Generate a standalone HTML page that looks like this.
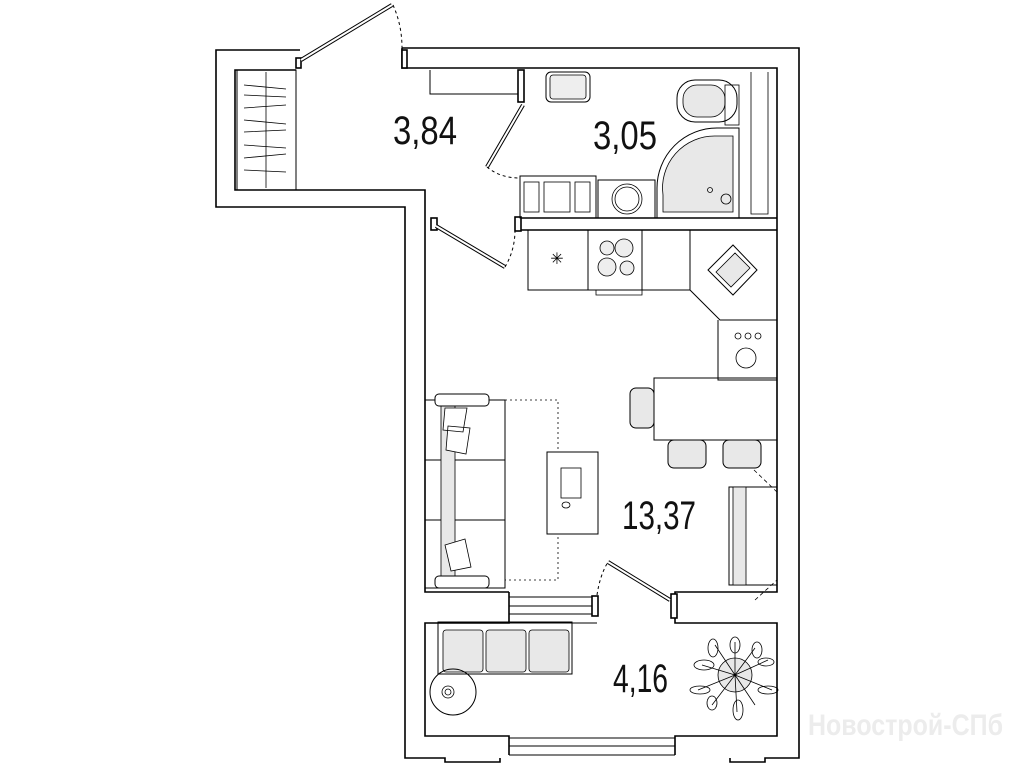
<!DOCTYPE html>
<html><head><meta charset="utf-8"><style>
html,body{margin:0;padding:0;background:#fff;width:1019px;height:768px;overflow:hidden}
text{font-family:"Liberation Sans",sans-serif}
</style></head><body>
<svg width="1019" height="768" viewBox="0 0 1019 768" xmlns="http://www.w3.org/2000/svg">
<g fill="none" stroke="#000" stroke-width="1.6">
<path d="M300,50 H216 V207 H405 V758 H445 V762 H500 V758"/>
<path d="M402,48 H799 V758 H765 V762 H730 V758"/>
<path d="M296,70 H235 V190 H425 V592 H509"/>
<path d="M402,48 V68 H777 V592 H675 V623 H777 V736 H675 V755"/>
<path d="M509,592 V623 H425 V736 H509 V755"/>
<path d="M509,738 H675 M509,746 H675 M509,755 H675" stroke-width="1"/>
<path d="M509,597 H597 M509,606 H597 M509,614 H597 M509,623 H597" stroke-width="1"/>
<rect x="592" y="596" width="6" height="20" fill="#fff"/>
<rect x="671" y="594" width="6" height="24" fill="#fff"/>
<rect x="237" y="70" width="59" height="120" stroke-width="1"/>
<line x1="266" y1="72" x2="266" y2="188" stroke-width="0.8"/>
<path d="M244,85 l42,4 M244,95 l42,2 M244,108 l42,-3 M244,120 l42,4 M244,132 l42,-2 M244,145 l42,3 M244,158 l42,-4 M244,170 l42,2" stroke-width="0.8"/>
<rect x="296" y="58" width="5" height="10" fill="#fff"/>
<line x1="301" y1="60" x2="392" y2="5" stroke-width="4"/>
<line x1="301" y1="60" x2="392" y2="5" stroke="#fff" stroke-width="2"/>
<path d="M393,5 Q402,25 402,48" stroke-dasharray="3,3" stroke-width="1"/>
<rect x="402" y="50" width="5" height="18" fill="#fff"/>
<path d="M430,70 V94 H520" stroke-width="1"/>
<rect x="518" y="70" width="6" height="32" fill="#fff"/>
<path d="M523,105 L487,167" stroke-width="4"/>
<path d="M523,105 L487,167" stroke="#fff" stroke-width="2"/>
<path d="M487,167 Q500,178 520,178" stroke-dasharray="3,3" stroke-width="1"/>
<path d="M518,218 H777 M518,230 H777" />
<rect x="515" y="217" width="6" height="14" fill="#fff"/>
<rect x="546" y="72" width="44" height="30" rx="5" stroke-width="1"/>
<rect x="550" y="75" width="36" height="24" rx="3" fill="#eee" stroke-width="0.8"/>
<rect x="520" y="176" width="76" height="42" stroke-width="1"/>
<rect x="524" y="182" width="15" height="30" stroke-width="0.8"/>
<rect x="544" y="182" width="26" height="30" stroke-width="0.8"/>
<rect x="575" y="182" width="15" height="30" stroke-width="0.8"/>
<rect x="598" y="180" width="57" height="38" stroke-width="1"/>
<circle cx="627" cy="199" r="15" stroke-width="0.8"/><circle cx="627" cy="199" r="12" stroke-width="0.8"/>
<path d="M657,218 V188 A60,60 0 0 1 717,128 H739 V218 Z" stroke-width="1"/>
<path d="M663,212 V195 A52,52 0 0 1 715,136 H733 V212 Z" fill="#e8e8e8" stroke-width="0.8"/>
<circle cx="726" cy="199" r="5" stroke-width="0.8"/><circle cx="710" cy="190" r="2.5" stroke-width="0.8"/>
<rect x="677" y="80" width="60" height="42" rx="18" stroke-width="1"/>
<rect x="683" y="85" width="42" height="32" rx="14" fill="#e8e8e8" stroke-width="0.8"/>
<rect x="725" y="85" width="14" height="40" stroke-width="0.8"/>
<path d="M751,72 V214 H768 V72" stroke-width="0.8"/>
<path d="M528,230 V290 H690 V230 M588,230 V290 M642,230 V290" stroke-width="1"/>
<text x="557" y="264" font-size="16" text-anchor="middle" stroke="none" fill="#000">✳</text>
<circle cx="607" cy="248" r="7" fill="#eee" stroke-width="0.8"/><circle cx="624" cy="248" r="9" fill="#eee" stroke-width="0.8"/>
<circle cx="607" cy="267" r="9" fill="#eee" stroke-width="0.8"/><circle cx="627" cy="268" r="7" fill="#eee" stroke-width="0.8"/>
<path d="M596,290 V295 H642 V290" stroke-width="0.8"/>
<path d="M690,230 V290 L720,320 H777" stroke-width="1"/>
<path d="M708,270 L733,245 L757,270 L733,295 Z" stroke-width="1"/>
<path d="M716,272 L735,253 L750,268 L731,287 Z" fill="#e8e8e8" stroke-width="0.8"/>
<path d="M718,320 V380 H777" stroke-width="1"/>
<circle cx="746" cy="358" r="10" stroke-width="0.8"/>
<circle cx="738" cy="336" r="3" stroke-width="0.8"/><circle cx="748" cy="336" r="3" stroke-width="0.8"/><circle cx="758" cy="336" r="3" stroke-width="0.8"/>
<rect x="654" y="378" width="123" height="62" stroke-width="1"/>
<rect x="630" y="388" width="24" height="40" rx="6" fill="#e8e8e8" stroke-width="1"/>
<rect x="668" y="440" width="38" height="28" rx="6" fill="#e8e8e8" stroke-width="1"/>
<rect x="723" y="440" width="38" height="28" rx="6" fill="#e8e8e8" stroke-width="1"/>
<rect x="729" y="487" width="48" height="98" stroke-width="1"/>
<rect x="733" y="487" width="13" height="98" fill="#e8e8e8" stroke-width="0.8"/>
<path d="M754,470 L777,492 M755,600 L777,580" stroke-dasharray="4,3" stroke-width="0.8"/>
<rect x="425" y="400" width="80" height="188" stroke-width="1"/>
<path d="M425,460 H505 M425,520 H505" stroke-width="1"/>
<rect x="441" y="400" width="14" height="188" fill="#e8e8e8" stroke-width="0.8"/>
<rect x="435" y="394" width="54" height="12" rx="4" fill="#fff" stroke-width="1"/>
<rect x="435" y="576" width="54" height="12" rx="4" fill="#fff" stroke-width="1"/>
<path d="M445,408 l22,0 l-4,24 l-20,-2 Z M448,426 l22,2 l-4,26 l-20,-4 Z M445,545 l20,-6 l6,28 l-20,4 Z" fill="#fff" stroke-width="0.8"/>
<rect x="505" y="400" width="53" height="180" stroke-dasharray="2,3" stroke-width="0.8"/>
<rect x="547" y="452" width="51" height="82" fill="#fff" stroke-width="1"/>
<rect x="561" y="468" width="20" height="30" stroke-width="0.8"/>
<ellipse cx="566" cy="505" rx="4" ry="3" stroke-width="0.8"/>
<path d="M608,562 L670,600" stroke-width="4"/><path d="M608,562 L670,600" stroke="#fff" stroke-width="2"/>
<path d="M597,595 Q600,575 608,562" stroke-dasharray="3,3" stroke-width="1"/>
<rect x="431" y="218" width="6" height="12" fill="#fff"/>
<path d="M436,226 L505,267" stroke-width="4"/><path d="M436,226 L505,267" stroke="#fff" stroke-width="2"/>
<path d="M505,267 Q515,250 515,230" stroke-dasharray="3,3" stroke-width="1"/>
<rect x="438" y="622" width="134" height="52" stroke-width="1"/>
<rect x="443" y="630" width="40" height="42" rx="3" fill="#e8e8e8" stroke-width="0.8"/>
<rect x="486" y="630" width="40" height="42" rx="3" fill="#e8e8e8" stroke-width="0.8"/>
<rect x="529" y="630" width="40" height="42" rx="3" fill="#e8e8e8" stroke-width="0.8"/>
<circle cx="453" cy="692" r="23" stroke-width="1"/>
<circle cx="448" cy="692" r="6" stroke-width="0.8"/><circle cx="448" cy="692" r="3" stroke-width="0.8"/>
<circle cx="735" cy="675" r="17" fill="#e8e8e8" stroke-width="0.8"/>
<g stroke-width="0.8">
<path d="M735,675 L715,645 M735,675 L735,642 M735,675 L755,648 M735,675 L768,660 M735,675 L772,690 M735,675 L755,705 M735,675 L737,712 M735,675 L712,705 M735,675 L698,690 M735,675 L702,665"/>
<ellipse cx="713" cy="648" rx="5" ry="9"/><ellipse cx="735" cy="645" rx="5" ry="8"/><ellipse cx="757" cy="650" rx="5" ry="8"/>
<ellipse cx="766" cy="662" rx="8" ry="4"/><ellipse cx="768" cy="690" rx="10" ry="4"/><ellipse cx="738" cy="710" rx="5" ry="10"/>
<ellipse cx="712" cy="703" rx="5" ry="7"/><ellipse cx="700" cy="690" rx="10" ry="4"/><ellipse cx="704" cy="665" rx="10" ry="5"/>
</g>
</g>
<g font-size="40" fill="#111">
<text x="393" y="144" textLength="64" lengthAdjust="spacingAndGlyphs">3,84</text>
<text x="593" y="149" textLength="64" lengthAdjust="spacingAndGlyphs">3,05</text>
<text x="622" y="529" textLength="74" lengthAdjust="spacingAndGlyphs">13,37</text>
<text x="613" y="692" textLength="55" lengthAdjust="spacingAndGlyphs">4,16</text>
</g>
<text x="808" y="735" font-size="30" fill="#ececec" textLength="195" lengthAdjust="spacingAndGlyphs" font-weight="bold">Новострой-СПб</text>
</svg>
</body></html>
